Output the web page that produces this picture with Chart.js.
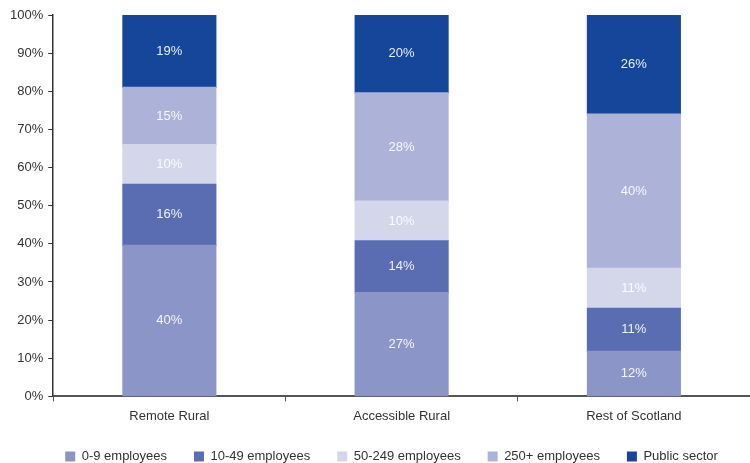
<!DOCTYPE html>
<html lang="en">
<head>
  <meta charset="UTF-8" />
  <title>Employment by business size</title>
  <script src="https://cdn.jsdelivr.net/npm/chart.js"></script>
  <style>
    html, body {
      margin: 0;
      padding: 0;
      background: #ffffff;
    }
    #wrap {
      width: 750px;
      height: 463px;
    }
  </style>
</head>
<body>
  <div id="wrap">
    <canvas id="sizeChart"></canvas>
  </div>

  <script>
    const areas = ['Remote Rural', 'Accessible Rural', 'Rest of Scotland'];

    // share of employment (%) by size band
    const micro = [39.6, 27.2, 11.8];
    const small = [16.0, 13.6, 11.3];
    const medium = [10.4, 10.4, 10.5];
    const large = [15.0, 28.4, 40.4];
    const publicSector = [19.0, 20.4, 26.0];

    const yTicks = [0, 10, 20, 30, 40, 50, 60, 70, 80, 90, 100];

    const fontFamily = "'Liberation Sans', Arial, sans-serif";

    // write the rounded share in the middle of each segment
    const segmentLabels = {
      id: 'segmentLabels',
      afterDatasetsDraw(chart) {
        const ctx = chart.ctx;
        ctx.save();
        ctx.font = '13px ' + fontFamily;
        ctx.fillStyle = 'rgba(255,255,255,0.9)';
        ctx.textAlign = 'center';
        ctx.textBaseline = 'middle';
        chart.data.datasets.forEach((ds, i) => {
          chart.getDatasetMeta(i).data.forEach((bar, j) => {
            const mid = (bar.y + bar.base) / 2;
            ctx.fillText(Math.round(ds.data[j]) + '%', bar.x, mid);
          });
        });
        ctx.restore();
      }
    };

    // legend: keep wide gaps between items but a shorter box,
    // drawn a little higher and further right than its slot
    const legendTweak = {
      id: 'legendTweak',
      beforeLayout(chart) {
        const lg = chart.legend;
        if (lg && !lg._tweaked) {
          const fit = lg.fit;
          lg.fit = function () {
            fit.call(this);
            this.height -= 16;
          };
          lg._tweaked = true;
        }
      },
      afterLayout(chart) {
        const lg = chart.legend;
        if (lg) {
          lg.left += 14;
          lg.right += 14;
          lg.top -= 8;
        }
      }
    };

    new Chart(document.getElementById('sizeChart'), {
      type: 'bar',
      data: {
        labels: areas,
        datasets: [
          { label: '0-9 employees', data: micro, backgroundColor: '#8c95c8' },
          { label: '10-49 employees', data: small, backgroundColor: '#5a6db3' },
          { label: '50-249 employees', data: medium, backgroundColor: '#d4d6ea' },
          { label: '250+ employees', data: large, backgroundColor: '#adb3d8' },
          { label: 'Public sector', data: publicSector, backgroundColor: '#16469a' }
        ]
      },
      options: {
        responsive: true,
        maintainAspectRatio: false,
        animation: false,
        datasets: {
          bar: { barPercentage: 0.4, categoryPercentage: 1, inflateAmount: 0.6 }
        },
        layout: { padding: { top: 15, right: 0, left: 5, bottom: -2 } },
        scales: {
          x: {
            stacked: true,
            grid: {
              display: true,
              drawOnChartArea: false,
              drawTicks: true,
              tickLength: 5,
              color: '#555',
              offset: true
            },
            border: { display: true, color: '#555', width: 2 },
            ticks: {
              color: '#333',
              padding: 7,
              font: { family: fontFamily, size: 13 }
            }
          },
          y: {
            stacked: true,
            min: 0,
            max: 100,
            afterBuildTicks(scale) {
              scale.ticks = yTicks.map(v => ({ value: v }));
            },
            grid: {
              display: true,
              drawOnChartArea: false,
              drawTicks: true,
              tickLength: 5,
              color: '#333'
            },
            border: { display: true, color: '#333', width: 1.5 },
            ticks: {
              color: '#333',
              padding: 5,
              font: { family: fontFamily, size: 13 },
              callback: v => v + '%'
            }
          }
        },
        plugins: {
          legend: {
            position: 'bottom',
            labels: {
              boxWidth: 10,
              boxHeight: 10,
              padding: 27,
              color: '#333',
              font: { family: fontFamily, size: 13 }
            }
          },
          tooltip: { enabled: false }
        }
      },
      plugins: [segmentLabels, legendTweak]
    });
  </script>
</body>
</html>
